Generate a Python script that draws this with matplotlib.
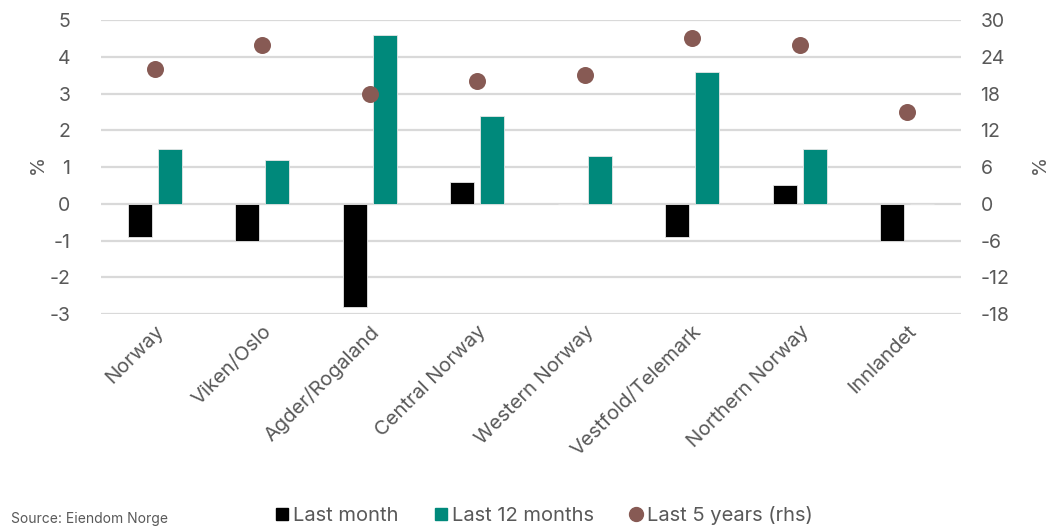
import numpy as np
import matplotlib.pyplot as plt
from matplotlib.lines import Line2D

plt.rcParams['font.family'] = ['Inter', 'DejaVu Sans']
plt.rcParams['axes.unicode_minus'] = False

regions = ["Norway", "Viken/Oslo", "Agder/Rogaland", "Central Norway",
           "Western Norway", "Vestfold/Telemark", "Northern Norway", "Innlandet"]
last_month = [-0.9, -1.0, -2.8, 0.6, 0.0, -0.9, 0.5, -1.0]
last_12m = [1.5, 1.2, 4.6, 2.4, 1.3, 3.6, 1.5, 0.0]
last_5y = [22, 26, 18, 20, 21, 27, 26, 15]

black = "#000000"
teal = "#00897B"
brown = "#875A54"
grey_txt = "#595959"
grid_c = "#D9D9D9"

fig = plt.figure(figsize=(10.59, 5.28), dpi=100)
ax = fig.add_axes([0.0954, 0.405, 0.812, 0.557])
ax2 = ax.twinx()

x = np.arange(len(regions))
w = 0.225
ax.bar(x - 0.14, last_month, w, color=black, edgecolor="#e6e6e6", linewidth=0.6, zorder=3)
ax.bar(x + 0.14, last_12m, w, color=teal, edgecolor="#e6e6e6", linewidth=0.6, zorder=3)
ax2.scatter(x, last_5y, s=150, color=brown, zorder=4, linewidths=0)

ax.set_xlim(-0.5, len(regions) - 0.5)
ax.set_ylim(-3, 5)
ax2.set_ylim(-18, 30)
ax.set_yticks(np.arange(-3, 6, 1))
ax2.set_yticks(np.arange(-18, 31, 6))
ax.grid(axis="y", color=grid_c, linewidth=1.6, zorder=0)
ax.set_axisbelow(True)

for a in (ax, ax2):
    for s in a.spines.values():
        s.set_visible(False)
    a.tick_params(length=0, labelsize=14, colors=grey_txt)

ax.tick_params(axis="y", pad=22)
ax2.tick_params(axis="y", pad=14)
ax.set_xticks(x)
ax.set_xticklabels(regions, rotation=45, ha="right", rotation_mode="anchor",
                   fontsize=14.5, color=grey_txt)
ax.tick_params(axis="x", pad=6)

# axis units, placed in figure coordinates on both sides
fig.text(0.036, 0.688, "%", fontsize=14, color=grey_txt, rotation=90,
         ha="center", va="center")
fig.text(0.982, 0.688, "%", fontsize=14, color=grey_txt, rotation=90,
         ha="center", va="center")

handles = [
    Line2D([], [], marker="s", linestyle="", color=black, markersize=9),
    Line2D([], [], marker="s", linestyle="", color=teal, markersize=9),
    Line2D([], [], marker="o", linestyle="", color=brown, markersize=10),
]
fig.legend(handles, ["Last month", "Last 12 months", "Last 5 years (rhs)"],
           loc="lower center", bbox_to_anchor=(0.512, -0.028), ncol=3, frameon=False,
           fontsize=14.5, labelcolor=grey_txt, handletextpad=0.05,
           columnspacing=1.6, handlelength=1.0)

fig.text(0.01, 0.003, "Source: Eiendom Norge", fontsize=10, color=grey_txt, va="bottom")

fig.savefig("out.png", dpi=100)
